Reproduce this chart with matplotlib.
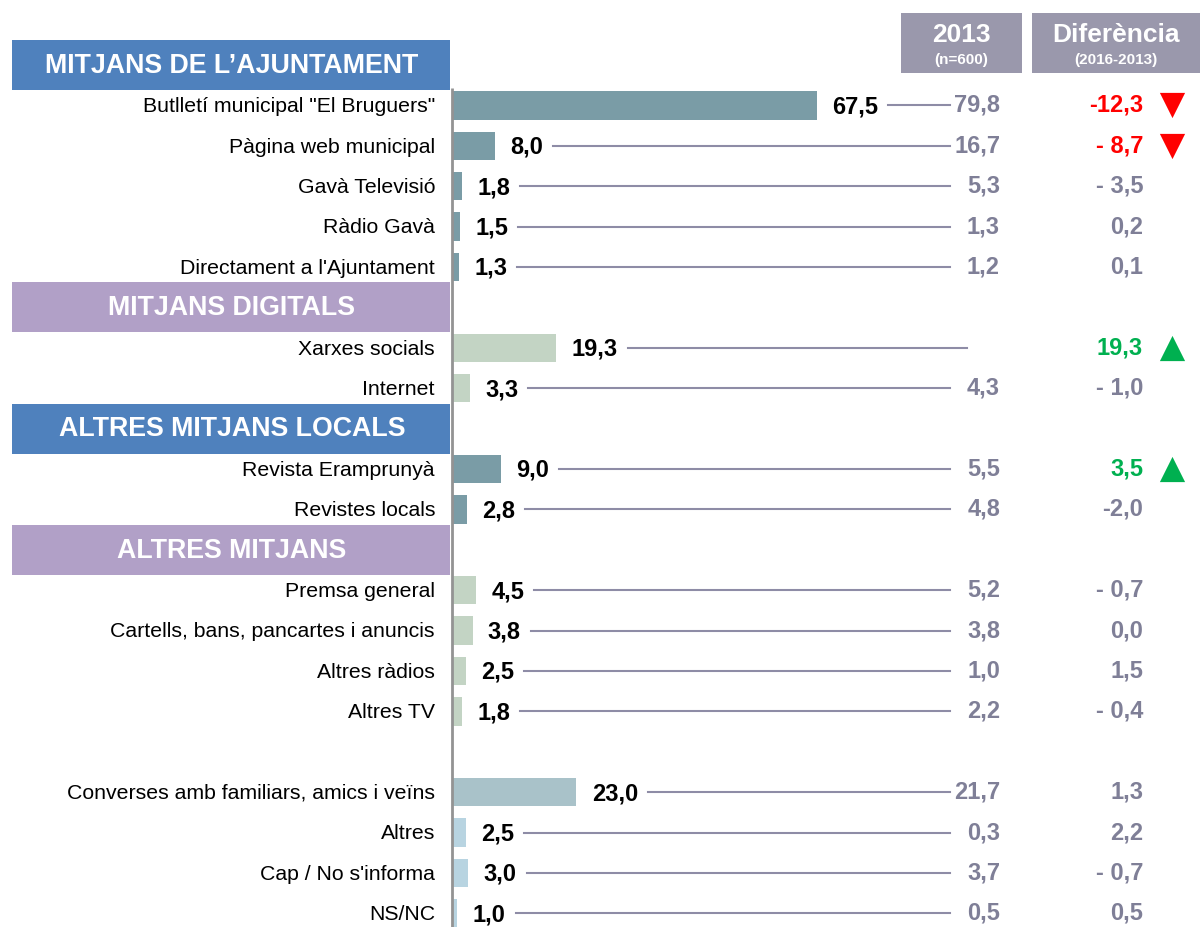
import matplotlib
matplotlib.use('Agg')
import matplotlib.pyplot as plt
import matplotlib.transforms as mtransforms
from matplotlib.patches import Rectangle

plt.rcParams['font.family'] = ['Liberation Sans', 'DejaVu Sans']

# --- data ---
sections = ["MITJANS DE L\u2019AJUNTAMENT", "MITJANS DIGITALS", "ALTRES MITJANS LOCALS", "ALTRES MITJANS", None]
section_sizes = [5, 2, 2, 4, 4]

categories = ['Butlletí municipal "El Bruguers"', 'Pàgina web municipal', 'Gavà Televisió', 'Ràdio Gavà',
              "Directament a l'Ajuntament",
              'Xarxes socials', 'Internet',
              'Revista Eramprunyà', 'Revistes locals',
              'Premsa general', 'Cartells, bans, pancartes i anuncis', 'Altres ràdios', 'Altres TV',
              'Converses amb familiars, amics i veïns', 'Altres', "Cap / No s'informa", 'NS/NC']
values_2016 = [67.5, 8.0, 1.8, 1.5, 1.3, 19.3, 3.3, 9.0, 2.8, 4.5, 3.8, 2.5, 1.8, 23.0, 2.5, 3.0, 1.0]
values_2013 = [79.8, 16.7, 5.3, 1.3, 1.2, None, 4.3, 5.5, 4.8, 5.2, 3.8, 1.0, 2.2, 21.7, 0.3, 3.7, 0.5]
diff_labels = ['-12,3', '- 8,7', '- 3,5', '0,2', '0,1', '19,3', '- 1,0', '3,5', '-2,0',
               '- 0,7', '0,0', '1,5', '- 0,4', '1,3', '2,2', '- 0,7', '0,5']
trend = ['down', 'down', None, None, None, 'up', None, 'up', None,
         None, None, None, None, None, None, None, None]

# --- style ---
TEAL = '#7A9CA6'
SAGE = '#C3D4C4'
bar_colors = [TEAL] * 5 + [SAGE] * 2 + [TEAL] * 2 + [SAGE] * 4 + ['#A9C2C9'] + ['#B8D4E1'] * 3
section_colors = ['#4F81BD', '#B1A0C7', '#4F81BD', '#B1A0C7', None]
GREY_TXT = '#7F7F97'
LINE_C = '#8E8CA6'
BOX_C = '#9A98AC'

W, H = 1200, 927
ZERO_PX = 452
PX_PER_UNIT = 5.41
SLOT0_PX = 65
SLOT_PX = 40.4

fig = plt.figure(figsize=(W / 100, H / 100), dpi=100)
ax = fig.add_axes([0, 0, 1, 1])
ax.set_xlim(-ZERO_PX / PX_PER_UNIT, (W - ZERO_PX) / PX_PER_UNIT)
ax.set_ylim((H - SLOT0_PX) / SLOT_PX, -SLOT0_PX / SLOT_PX)
ax.axis('off')

trans = mtransforms.blended_transform_factory(fig.transFigure, ax.transData)

# slot positions: section header takes one slot, then its rows
header_slots = []
row_slots = []
slot = 0
for name, n in zip(sections, section_sizes):
    header_slots.append(slot)
    slot += 1
    for i in range(n):
        row_slots.append(slot)
        slot += 1

# section headers
for name, s, c in zip(sections, header_slots, section_colors):
    if name is None:
        continue
    ax.add_patch(Rectangle((12 / W, s - 0.62), 438 / W, 1.24, transform=trans, color=c, lw=0))
    ax.text(232 / W, s + 0.02, name, transform=trans, ha='center', va='center',
            color='white', fontsize=19.3, fontweight='bold')

# bars
ax.barh(row_slots, values_2016, height=0.7, color=bar_colors, zorder=2)
ax.vlines(0, 0.57, (H - SLOT0_PX) / SLOT_PX, color='#939393', lw=2, zorder=3)

# category labels
for s, cat in zip(row_slots, categories):
    ax.text(435 / W, s + 0.03, cat, transform=trans, ha='right', va='center', fontsize=15.3, color='black')

# value labels
value_texts = []
for s, v in zip(row_slots, values_2016):
    t = ax.annotate(f'{v:.1f}'.replace('.', ','), (v, s), xytext=(11, -1), textcoords='offset points',
                    ha='left', va='center', fontsize=17, fontweight='bold', color='black')
    value_texts.append(t)

# 2013 column and difference column
for s, v13, d, tr in zip(row_slots, values_2013, diff_labels, trend):
    if v13 is not None:
        ax.text(1000 / W, s, f'{v13:.1f}'.replace('.', ','), transform=trans, ha='right', va='center',
                fontsize=17, fontweight='bold', color=GREY_TXT)
    dc = {'down': '#FF0000', 'up': '#00B050'}.get(tr, GREY_TXT)
    ax.text(1143 / W, s, d, transform=trans, ha='right', va='center',
            fontsize=17, fontweight='bold', color=dc)
    if tr is not None:
        ax.scatter([1172 / W], [s], transform=trans, marker='v' if tr == 'down' else '^',
                   s=330, color=dc, linewidths=0, zorder=4)

# column headers
for x0, x1, big, small in [(901, 1022, '2013', '(n=600)'), (1032, 1200, 'Diferència', '(2016-2013)')]:
    fig.add_artist(Rectangle((x0 / W, 1 - 73 / H), (x1 - x0) / W, 60 / H, transform=fig.transFigure,
                             color=BOX_C, lw=0))
    fig.text((x0 + x1) / 2 / W, 1 - 35 / H, big, ha='center', va='center', color='white',
             fontsize=19, fontweight='bold')
    fig.text((x0 + x1) / 2 / W, 1 - 60 / H, small, ha='center', va='center', color='white',
             fontsize=11, fontweight='bold')

# connector lines from value label to 2013 column
fig.canvas.draw()
renderer = fig.canvas.get_renderer()
for s, t, v13 in zip(row_slots, value_texts, values_2013):
    bb = t.get_window_extent(renderer)
    x_start = bb.x1 + 10
    x_end = 950 if v13 is not None else 967
    ax.plot([x_start / W, x_end / W], [s, s], transform=trans, color=LINE_C, lw=1.5, zorder=1)

fig.savefig('out.png', dpi=100)
